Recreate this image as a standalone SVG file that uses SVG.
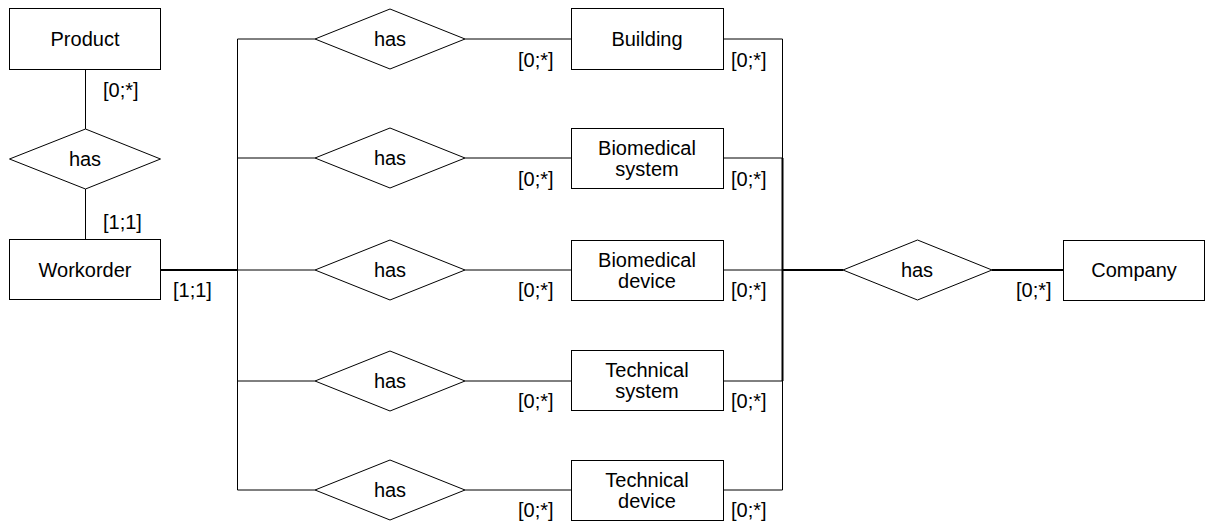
<svg xmlns="http://www.w3.org/2000/svg" width="1212" height="523" viewBox="0 0 1212 523">
<style>
.box{fill:#fff;stroke:#000;stroke-width:1}
.dia{fill:#fff;stroke:#000;stroke-width:1}
.t{font-family:"Liberation Sans",Arial,sans-serif;font-size:20px;fill:#000;text-anchor:middle}
.c{font-family:"Liberation Sans",Arial,sans-serif;font-size:20px;fill:#000}
.ln{stroke:#000;stroke-width:1;fill:none}
.lt{stroke:#000;stroke-width:2;fill:none}
</style>
<rect width="1212" height="523" fill="#fff"/>
<g id="connectors">
<path class="ln" d="M85.5 69V129M85.5 189V239"/>
<path class="lt" d="M160 270H237.5"/>
<path class="ln" d="M237.5 39V490"/>
<path class="ln" d="M237.5 39H315M465 39H571M723 39H782.5"/>
<path class="ln" d="M237.5 158H315M465 158H571M723 158H782.5"/>
<path class="ln" d="M237.5 270H315M465 270H571M723 270H782.5"/>
<path class="ln" d="M237.5 381H315M465 381H571M723 381H782.5"/>
<path class="ln" d="M237.5 490H315M465 490H571M723 490H782.5"/>
<path class="ln" d="M782.5 39V490"/>
<path class="lt" d="M782.5 158V381"/>
<path class="lt" d="M782.5 270H843M992 270H1063"/>
</g>
<g id="labels">
<text class="c" x="103" y="97">[0;*]</text>
<text class="c" x="103" y="229">[1;1]</text>
<text class="c" x="173" y="297">[1;1]</text>
<text class="c" x="518" y="67">[0;*]</text>
<text class="c" x="731" y="67">[0;*]</text>
<text class="c" x="518" y="186">[0;*]</text>
<text class="c" x="731" y="186">[0;*]</text>
<text class="c" x="518" y="297">[0;*]</text>
<text class="c" x="731" y="297">[0;*]</text>
<text class="c" x="518" y="408">[0;*]</text>
<text class="c" x="731" y="408">[0;*]</text>
<text class="c" x="518" y="517">[0;*]</text>
<text class="c" x="731" y="517">[0;*]</text>
<text class="c" x="1016" y="297">[0;*]</text>
</g>
<g id="product"><rect class="box" x="9.5" y="8.5" width="151" height="61"/><text class="t" x="85" y="46">Product</text></g>
<g id="has-product"><polygon class="dia" points="9.5,159 85.5,129 160.5,159 85.5,189"/><text class="t" x="85" y="166">has</text></g>
<g id="workorder"><rect class="box" x="9.5" y="239.5" width="151" height="60"/><text class="t" x="85" y="277">Workorder</text></g>
<g id="has1"><polygon class="dia" points="315,39 390,9 465,39 390,69"/><text class="t" x="390" y="46">has</text></g>
<g id="has2"><polygon class="dia" points="315,158 390,128 465,158 390,188"/><text class="t" x="390" y="165">has</text></g>
<g id="has3"><polygon class="dia" points="315,270 390,240 465,270 390,300"/><text class="t" x="390" y="277">has</text></g>
<g id="has4"><polygon class="dia" points="315,381 390,351 465,381 390,411"/><text class="t" x="390" y="388">has</text></g>
<g id="has5"><polygon class="dia" points="315,490 390,460 465,490 390,520"/><text class="t" x="390" y="497">has</text></g>
<g id="building"><rect class="box" x="571.5" y="8.5" width="152" height="61"/><text class="t" x="647" y="46">Building</text></g>
<g id="biomedical-system"><rect class="box" x="571.5" y="128.5" width="152" height="60"/><text class="t" x="647" y="155">Biomedical</text><text class="t" x="647" y="176">system</text></g>
<g id="biomedical-device"><rect class="box" x="571.5" y="240.5" width="152" height="60"/><text class="t" x="647" y="267">Biomedical</text><text class="t" x="647" y="288">device</text></g>
<g id="technical-system"><rect class="box" x="571.5" y="350.5" width="152" height="60"/><text class="t" x="647" y="377">Technical</text><text class="t" x="647" y="398">system</text></g>
<g id="technical-device"><rect class="box" x="571.5" y="460.5" width="152" height="60"/><text class="t" x="647" y="487">Technical</text><text class="t" x="647" y="508">device</text></g>
<g id="has-company"><polygon class="dia" points="843,270 917.5,240 992,270 917.5,300"/><text class="t" x="917" y="277">has</text></g>
<g id="company"><rect class="box" x="1063.5" y="240.5" width="141" height="60"/><text class="t" x="1134" y="277">Company</text></g>
</svg>
